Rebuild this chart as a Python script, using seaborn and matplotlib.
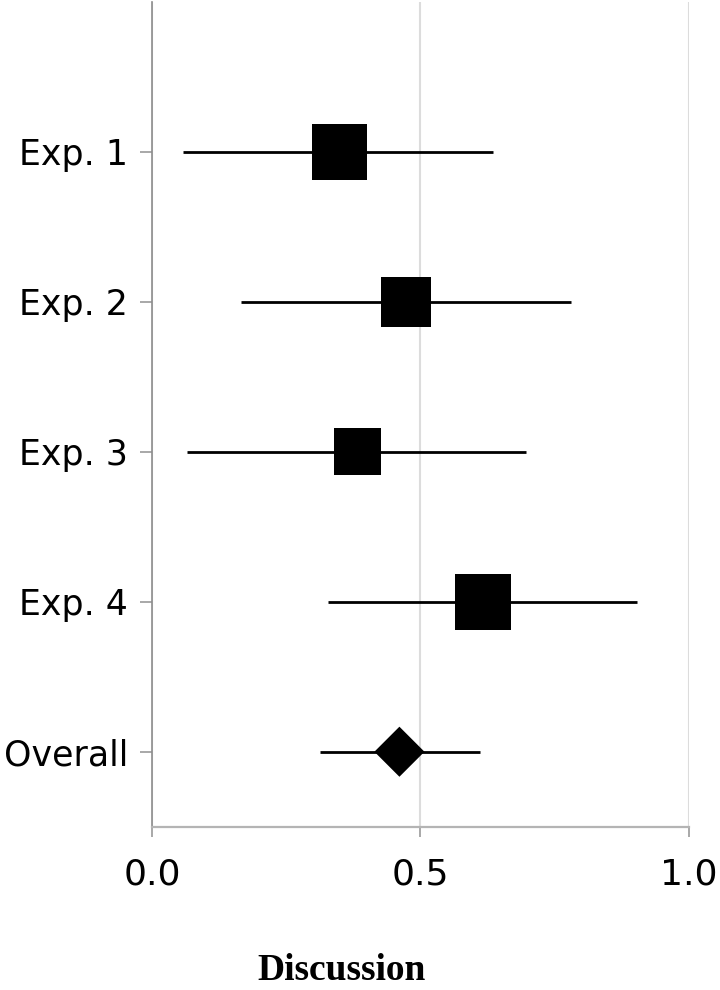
import pandas as pd
import matplotlib
matplotlib.use("Agg")
import matplotlib.pyplot as plt
import seaborn as sns

# forest plot values
labels = ["Exp. 1", "Exp. 2", "Exp. 3", "Exp. 4", "Overall"]
estimate = [0.349, 0.473, 0.383, 0.617, 0.461]
ci_low = [0.058, 0.165, 0.065, 0.327, 0.313]
ci_high = [0.635, 0.781, 0.696, 0.904, 0.611]
kind = ["study", "study", "study", "study", "pooled"]
box_pt = [40, 36, 34, 40, 25.5]  # marker side in points (study weight)

df = pd.DataFrame({
    "label": labels,
    "estimate": estimate,
    "lo": ci_low,
    "hi": ci_high,
    "kind": kind,
    "row": range(len(labels)),
})

sns.set_style("ticks")
plt.rcParams["font.family"] = ["DejaVu Sans"]
plt.rcParams["text.color"] = "black"

fig = plt.figure(figsize=(7.2, 9.9), dpi=100)
ax = fig.add_axes([152 / 720, 1 - 826.7 / 990, (688.7 - 152) / 720, (826.7 - 2) / 990])

# confidence intervals
ax.hlines(df["row"], df["lo"], df["hi"], color="black", lw=2.0, zorder=2)

# point estimates (squares for studies, diamond for pooled)
sns.scatterplot(data=df, x="estimate", y="row", style="kind",
                markers={"study": "s", "pooled": "D"},
                size="label", sizes={l: w ** 2 for l, w in zip(labels, box_pt)},
                color="black", linewidth=0, legend=False, ax=ax, zorder=3)

ax.set_xlim(0, 1)
ax.set_ylim(4.5, -1.0)
ax.set_xticks([0, 0.5, 1.0])
ax.set_xticklabels(["0.0", "0.5", "1.0"])
ax.set_yticks(df["row"])
ax.set_yticklabels(labels)
ax.set_xlabel("")
ax.set_ylabel("")

ax.grid(axis="x", color="#dcdcdc", lw=1.5)
ax.set_axisbelow(True)

for s in ["top", "right"]:
    ax.spines[s].set_visible(False)
ax.spines["left"].set_color("#8c8c8c")
ax.spines["left"].set_linewidth(1.2)
ax.spines["bottom"].set_color("#b4b4b4")
ax.spines["bottom"].set_linewidth(1.6)

ax.tick_params(axis="x", length=7, width=1.2, color="#9a9a9a", labelcolor="black",
               labelsize=26, pad=15)
ax.tick_params(axis="y", length=8.6, width=1.2, color="#9a9a9a", labelcolor="black",
               labelsize=25, pad=8.6)

fig.text(341.7 / 720, 0.002, "Discussion", ha="center", va="bottom",
         family="Liberation Serif", weight="bold", size=27, color="black")

fig.savefig("out.png", dpi=100)
